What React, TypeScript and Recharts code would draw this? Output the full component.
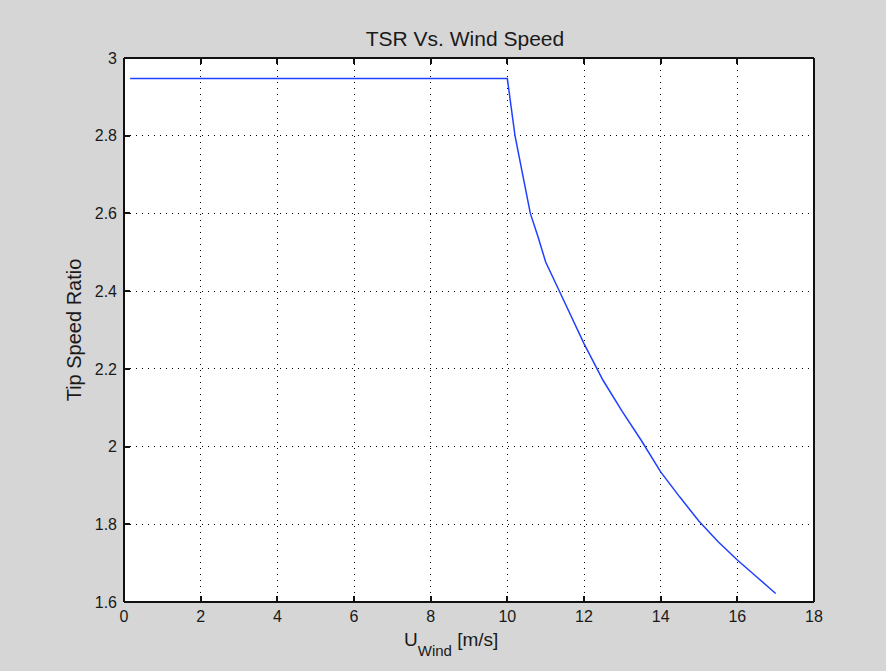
import { LineChart, Line, XAxis, YAxis, CartesianGrid } from "recharts"

// wind speed [m/s] and tip speed ratio
const windSpeed = [0.16, 10, 10.2, 10.4, 10.6, 10.8, 11, 11.5, 12, 12.5, 13, 13.5, 14, 14.5, 15, 15.5, 16, 16.5, 17]
const tipSpeedRatio = [2.947, 2.947, 2.8, 2.7, 2.6, 2.54, 2.475, 2.37, 2.265, 2.17, 2.09, 2.015, 1.935, 1.87, 1.808, 1.755, 1.708, 1.665, 1.622]

const xTicks = [0, 2, 4, 6, 8, 10, 12, 14, 16, 18]
const yTicks = [1.6, 1.8, 2, 2.2, 2.4, 2.6, 2.8, 3]

const data = windSpeed.map((u, i) => ({ u, tsr: tipSpeedRatio[i] }))

const W = 886
const H = 671
const FONT = "'Liberation Sans', Arial, sans-serif"
const tickStyle = { fontSize: 16, fill: "#1a1a1a", fontFamily: FONT, stroke: "none" }
const TICK = 6
const blank = () => ""

// 1px lines land on half pixels and blur to grey; snap them like matlab does
const css = `
.recharts-cartesian-grid line { shape-rendering: crispEdges; }
.recharts-cartesian-axis-line, .recharts-cartesian-axis-tick-line { shape-rendering: crispEdges; }
`

export default function App() {
  return (
    <div style={{ position: "absolute", left: 0, top: 0, width: W, height: H, background: "#d6d6d6" }}>
      <style>{css}</style>
      {/* white plot face sits behind the transparent chart svg */}
      <div style={{ position: "absolute", left: 124, top: 58, width: 690, height: 544, background: "#fff" }} />
      <div style={{ position: "absolute", left: 0, top: 0 }}>
        <LineChart width={W} height={H} data={data} margin={{ top: 57, right: 71, bottom: 39, left: 74 }}>
          <CartesianGrid stroke="#000" strokeDasharray="1 5" />
          {/* negative tick size -> ticks point into the plot, matlab style box */}
          <XAxis type="number" dataKey="u" domain={[0, 18]} ticks={xTicks} height={30} tickSize={-TICK} tickMargin={9 + TICK} tick={tickStyle} stroke="#111" strokeWidth={2} />
          <XAxis xAxisId="top" type="number" dataKey="u" domain={[0, 18]} ticks={xTicks} orientation="top" height={1} tickFormatter={blank} tickSize={-TICK} stroke="#111" strokeWidth={2} />
          <YAxis type="number" domain={[1.6, 3]} ticks={yTicks} width={50} tickSize={-TICK} tickMargin={7 + TICK} tick={tickStyle} stroke="#111" strokeWidth={2} />
          <YAxis yAxisId="right" type="number" domain={[1.6, 3]} ticks={yTicks} orientation="right" width={1} tickFormatter={blank} tickSize={-TICK} stroke="#111" strokeWidth={2} />
          <Line type="linear" dataKey="tsr" stroke="#2040ff" strokeWidth={1.5} dot={false} isAnimationActive={false} />
        </LineChart>
      </div>
      <svg width={W} height={H} style={{ position: "absolute", left: 0, top: 0, pointerEvents: "none" }}>
        <text x={465} y={46} textAnchor="middle" fontSize={21} fontFamily={FONT} fill="#1a1a1a">
          TSR Vs. Wind Speed
        </text>
        <text x={81} y={330} textAnchor="middle" fontSize={20} fontFamily={FONT} fill="#1a1a1a" transform="rotate(-90 81 330)">
          Tip Speed Ratio
        </text>
        <text x={404} y={646} fontSize={19} fontFamily={FONT} fill="#1a1a1a">
          U
          <tspan fontSize={15} dy={10}>Wind</tspan>
          <tspan dy={-10}> [m/s]</tspan>
        </text>
      </svg>
    </div>
  )
}
